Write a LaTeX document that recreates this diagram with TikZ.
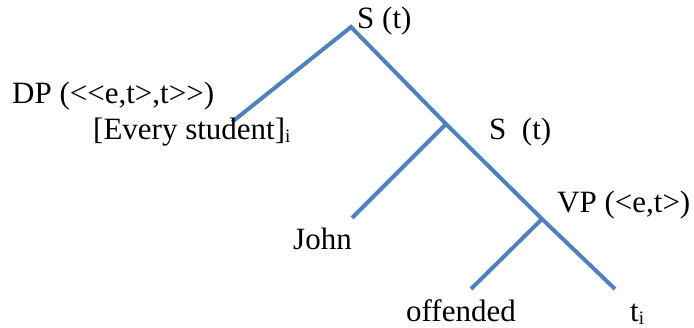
\documentclass[tikz,border=0pt]{standalone}
\usepackage{fontspec}
\setmainfont{Liberation Serif}
\usepackage{xcolor}
\usepackage{tikz}
\usetikzlibrary{positioning}
\definecolor{treeblue}{RGB}{79,129,189}
\newcommand{\idx}[1]{\raisebox{-0.08em}{\fontsize{19}{20}\selectfont #1}}

\begin{document}
\begin{tikzpicture}[x=1pt, y=-1pt,
    branch/.style={line width=4pt, draw=treeblue, line join=miter},
    catlabel/.style={anchor=base west, inner sep=0pt, font=\fontsize{31}{36}\selectfont},
    wordlabel/.style={catlabel}
]
\useasboundingbox (0,0) rectangle (694,328);
% Tree points
\coordinate (root) at (351,27);
\coordinate (dpend) at (232,122);
\coordinate (s2) at (446,124);
\coordinate (johnend) at (352,218);
\coordinate (vp) at (542,219);
\coordinate (offend) at (471,289);
\coordinate (tend) at (615,289);
% Branches
\draw[branch] (dpend) -- (root) -- (s2) -- (vp) -- (tend);
\draw[branch] (s2) -- (johnend);
\draw[branch] (vp) -- (offend);
% Category labels
\node[catlabel] (sroot) at (357,29) {S (t)};
\node[catlabel] (dp) at (12,104) {DP (<{}<e,t>,t>{}>)};
\node[catlabel] (sinner) at (489,140) {S\ \ (t)};
\node[catlabel] (vpl) at (557,213) {VP (<e,t>)};
% Words
\node[wordlabel] (every) at (93,140) {[Every student]\idx{i}};
\node[wordlabel] (john) at (293,250) {John};
\node[wordlabel] (offended) at (406,322) {offended};
\node[wordlabel] (trace) at (630,322) {t\idx{i}};
\end{tikzpicture}
\end{document}
